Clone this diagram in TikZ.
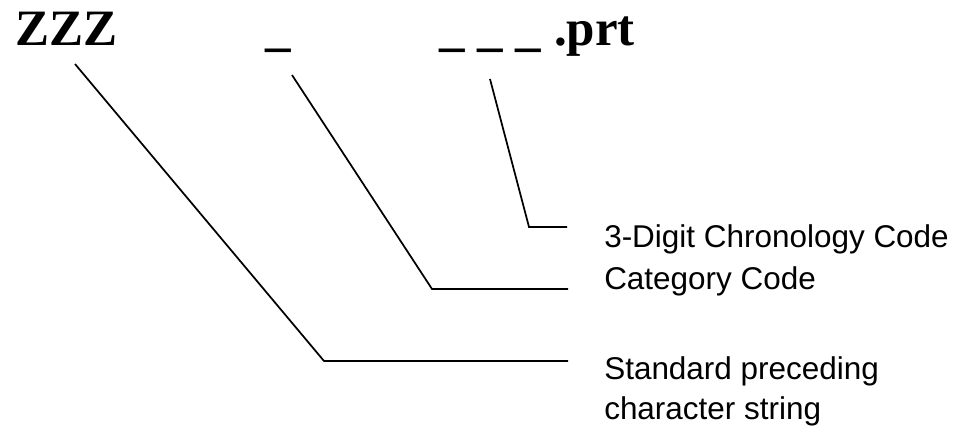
\documentclass[tikz,border=0pt]{standalone}
\usepackage{fontspec}
\setmainfont{Liberation Serif}
\newfontfamily\labelfont{Liberation Sans}
\usepackage{tikz}

\tikzset{
	leader/.style={line width=1.3pt, line join=miter},
	codetext/.style={inner sep=0pt, anchor=base west, font=\bfseries\fontsize{38.25pt}{40pt}\selectfont},
	labeltext/.style={inner sep=0pt, anchor=base west, align=left, font=\labelfont\fontsize{23.6pt}{30pt}\selectfont}
}

\begin{document}
\begin{tikzpicture}[x=0.75pt, y=-0.75pt]
	\useasboundingbox (0,0) rectangle (958,434);
	
	% file name pattern
	\node[codetext] (prefix) at (15,45.5) {ZZZ};
	\node[codetext] (category) at (265,45.5) {\_};
	\node[codetext] (chrono) at (439,45.5) {\_ \_ \_ .prt};
	
	% explanations
	\node[labeltext] (chronolabel) at (604,248) {3-Digit Chronology Code};
	\node[labeltext] (catlabel) at (604,290) {Category Code};
	\node[labeltext] (prefixlabel) at (604,420) {Standard preceding\\character string};
	
	\coordinate (p1) at (75,64);
	\coordinate (p2) at (324,361);
	\coordinate (p3) at (568,361);
	
	\coordinate (c1) at (292,75);
	\coordinate (c2) at (432,289);
	\coordinate (c3) at (568,289);
	
	\coordinate (d1) at (490,79);
	\coordinate (d2) at (529,227);
	\coordinate (d3) at (567,227);
	
	\draw[leader] (p1) -- (p2) -- (p3);
	\draw[leader] (c1) -- (c2) -- (c3);
	\draw[leader] (d1) -- (d2) -- (d3);
\end{tikzpicture}
\end{document}
